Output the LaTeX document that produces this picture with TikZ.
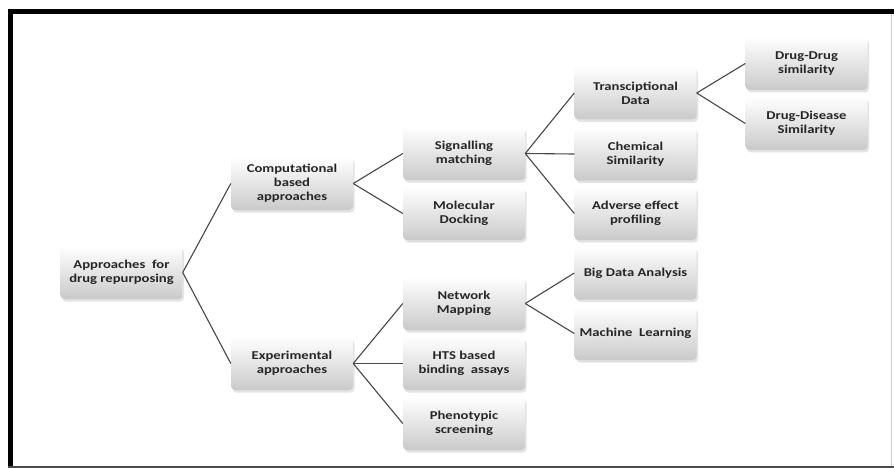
\documentclass[tikz,border=0pt]{standalone}
\usepackage{fontspec}
\setmainfont{Carlito}[FakeStretch=1.22]
\usetikzlibrary{shadows}
\begin{document}
\begin{tikzpicture}[x=1pt,y=-1pt,
  box/.style={rectangle, rounded corners=4pt, minimum width=122pt, minimum height=53pt,
    inner sep=1pt, align=center, font=\bfseries\fontsize{12}{14}\selectfont, text=black!85,
    top color=white, middle color=gray!12, bottom color=gray!42,
    drop shadow={shadow xshift=1.5pt, shadow yshift=-2.5pt, opacity=0.22}},
  link/.style={draw=black!72, line width=1.1pt}]
\useasboundingbox (0,0) rectangle (894,468);
\fill[white] (0,0) rectangle (894,468);
% frame
\draw[line width=5pt, black] (10.8,468) -- (10.8,11.5) -- (894,11.5);
\draw[line width=2pt, black!70] (8,467) -- (894,467);
\draw[line width=1pt, black!20] (891,14) -- (891,466);
% nodes
\node[box] (root) at (121.5,272.5) {Approaches\ \ for\\drug repurposing};
\node[box] (comp) at (292,183.5) {Computational\\based\\approaches};
\node[box] (exp)  at (292,363.5) {Experimental\\approaches};
\node[box] (sig)  at (464,153.5) {Signalling\\matching};
\node[box] (mol)  at (464,213.5) {Molecular\\Docking};
\node[box] (net)  at (464,303.5) {Network\\Mapping};
\node[box] (hts)  at (464,363.5) {HTS based\\binding\ \ assays};
\node[box] (phe)  at (464,423.5) {Phenotypic\\screening};
\node[box] (tra)  at (635.5,93) {Transciptional\\Data};
\node[box] (chem) at (635.5,154) {Chemical\\Similarity};
\node[box] (adv)  at (635.5,213.5) {Adverse effect\\profiling};
\node[box] (big)  at (635.5,273) {Big Data Analysis};
\node[box] (ml)   at (635.5,333.5) {Machine\ \ Learning};
\node[box] (dd)   at (806.5,63.5) {Drug-Drug\\similarity};
\node[box] (dis)  at (806.5,123.5) {Drug-Disease\\Similarity};
% connectors
\draw[link] (root.east) -- (comp.west);
\draw[link] (root.east) -- (exp.west);
\draw[link] (comp.east) -- (sig.west);
\draw[link] (comp.east) -- (mol.west);
\draw[link] (exp.east) -- (net.west);
\draw[link] (exp.east) -- (hts.west);
\draw[link] (exp.east) -- (phe.west);
\draw[link] (sig.east) -- (tra.west);
\draw[link] (sig.east) -- (chem.west);
\draw[link] (sig.east) -- (adv.west);
\draw[link] (net.east) -- (big.west);
\draw[link] (net.east) -- (ml.west);
\draw[link] (tra.east) -- (dd.west);
\draw[link] (tra.east) -- (dis.west);
\end{tikzpicture}
\end{document}
